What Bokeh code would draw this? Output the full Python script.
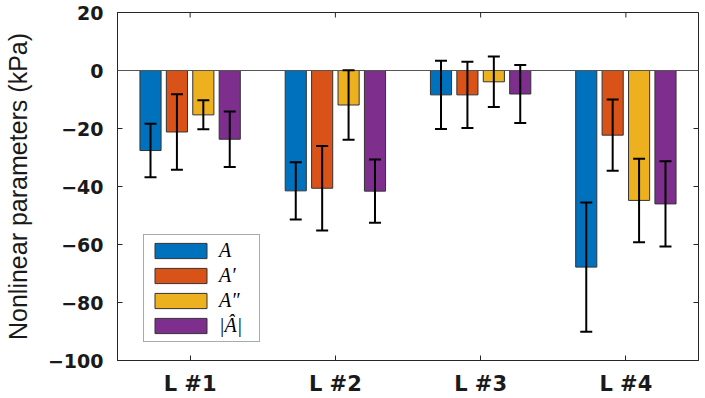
import math
from bokeh.plotting import figure
from bokeh.models import (ColumnDataSource, Whisker, TeeHead, Span, Legend, LegendItem,
                          FixedTicker, Range1d)
from bokeh.embed import file_html
from bokeh.resources import INLINE

categories = ["L #1", "L #2", "L #3", "L #4"]
series_names = ["A", "A\u2032", "A\u2033", "|\u00c2|"]
vals_A = [-27.6, -41.5, -8.4, -67.8]
err_A = [9.2, 9.9, 11.8, 22.3]
vals_A1 = [-21.2, -40.6, -8.4, -22.3]
err_A1 = [13.0, 14.6, 11.4, 12.3]
vals_A2 = [-15.3, -11.9, -3.9, -44.8]
err_A2 = [5.0, 12.0, 8.7, 14.4]
vals_Ah = [-23.7, -41.6, -8.1, -46.0]
err_Ah = [9.6, 10.9, 10.0, 14.7]
y_ticks = [-100, -80, -60, -40, -20, 0, 20]

colors = ["#0072BD", "#D95319", "#EDB120", "#7E2F8E"]
all_vals = [vals_A, vals_A1, vals_A2, vals_Ah]
all_errs = [err_A, err_A1, err_A2, err_Ah]

X0, X1 = 0.5, 4.5
Y0, Y1 = -100, 20

p = figure(width=705, height=398, output_backend="svg", toolbar_location=None,
           x_range=Range1d(X0, X1), y_range=Range1d(Y0, Y1),
           min_border_left=109, min_border_right=7, min_border_top=12, min_border_bottom=36)
p.xgrid.visible = False
p.ygrid.visible = False
p.outline_line_color = "#262626"
p.outline_line_width = 1
p.background_fill_color = "white"
p.border_fill_color = "white"

xc = list(range(1, len(categories) + 1))
p.xaxis.ticker = FixedTicker(ticks=xc)
p.xaxis.major_label_overrides = {i: c for i, c in zip(xc, categories)}
p.yaxis.ticker = FixedTicker(ticks=y_ticks)

for ax in [p.xaxis[0], p.yaxis[0]]:
    ax.major_tick_in = 5
    ax.major_tick_out = 0
    ax.minor_tick_in = 0
    ax.minor_tick_out = 0
    ax.axis_line_color = "#262626"
    ax.major_tick_line_color = "#262626"
    ax.major_label_text_font = "DejaVu Sans"
    ax.major_label_text_font_style = "bold"
    ax.major_label_text_color = "#1a1a1a"
p.yaxis.major_label_text_font_size = "19px"
p.xaxis.major_label_text_font_size = "21px"
p.xaxis.major_label_standoff = 11
p.yaxis.major_label_standoff = 14
p.yaxis.axis_label = "Nonlinear parameters (kPa)"
p.yaxis.axis_label_text_font = "Liberation Sans"
p.yaxis.axis_label_text_font_style = "normal"
p.yaxis.axis_label_text_font_size = "25px"
p.yaxis.axis_label_text_color = "#1a1a1a"
p.yaxis.axis_label_standoff = 13

# mirrored ticks on the right and top edges (box on)
p.scatter(x=[X1] * len(y_ticks), y=y_ticks, marker="dash", size=10,
          line_color="#262626", line_width=1)
p.scatter(x=xc, y=[Y1] * len(xc), marker="dash", angle=math.pi / 2, size=10,
          line_color="#262626", line_width=1)

n = len(all_vals)
group_w = min(0.8, n / (n + 1.5))
step = group_w / n
bar_w = 0.8 * step

p.add_layout(Span(location=0, dimension="width", line_color="#555555", line_width=1))

items = []
for i, (vals, errs, col, name) in enumerate(zip(all_vals, all_errs, colors, series_names)):
    off = (i - (n - 1) / 2) * step
    xs = [x + off for x in xc]
    src = ColumnDataSource(dict(x=xs, top=[0] * len(vals), bottom=vals,
                                upper=[v + e for v, e in zip(vals, errs)],
                                lower=[v - e for v, e in zip(vals, errs)]))
    r = p.vbar(x="x", width=bar_w, top="top", bottom="bottom", source=src,
               fill_color=col, line_color="#333333", line_width=1)
    items.append(LegendItem(label=name, renderers=[r]))
    w = Whisker(base="x", upper="upper", lower="lower", source=src, level="annotation",
                line_color="black", line_width=2,
                upper_head=TeeHead(size=12, line_width=2, line_color="black"),
                lower_head=TeeHead(size=12, line_width=2, line_color="black"))
    p.add_layout(w)

legend = Legend(items=items, location=(26, 18))
legend.glyph_width = 65
legend.glyph_height = 19
legend.label_height = 19
legend.label_width = 36
legend.spacing = 2
legend.padding = 4
legend.margin = 0
legend.label_standoff = 6
legend.label_text_font = "Liberation Serif"
legend.label_text_font_style = "italic"
legend.label_text_font_size = "20px"
legend.label_text_color = "black"
legend.border_line_color = "#555555"
legend.border_line_width = 1
legend.background_fill_color = "white"
legend.background_fill_alpha = 1
p.add_layout(legend, "center")

open("out.html", "w").write(file_html(p, INLINE))
